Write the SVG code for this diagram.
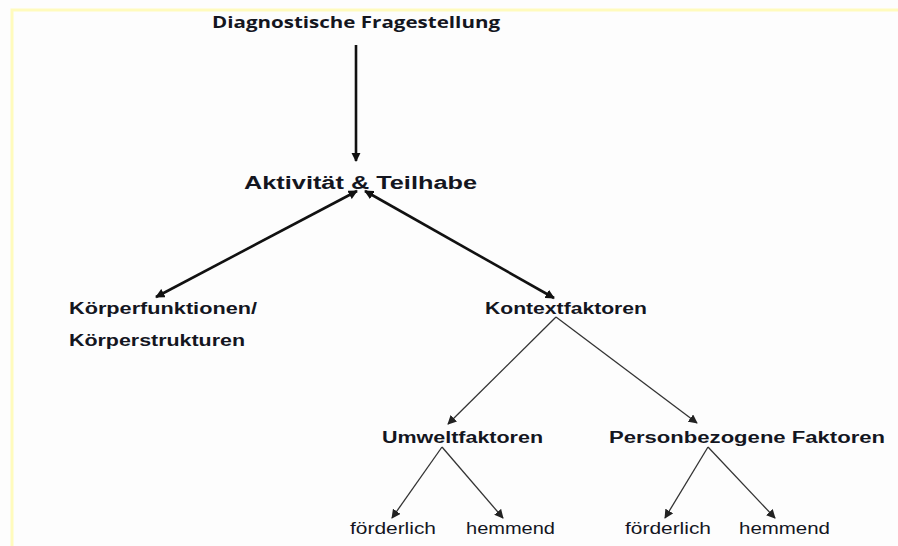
<svg xmlns="http://www.w3.org/2000/svg" width="898" height="546" viewBox="0 0 898 546">
<defs>
<style>
text{font-family:"Liberation Sans",Arial,sans-serif;fill:#14161f}
.b{font-weight:bold}
.t{font-family:"Open Sans","Liberation Sans",sans-serif;font-weight:bold;font-size:16.5px}
.thick{stroke:#111;stroke-width:2.6;fill:none}
.thin{stroke:#333;stroke-width:1.3;fill:none}
</style>
<marker id="ah" viewBox="0 0 10 10" refX="9" refY="5" markerWidth="3.6" markerHeight="3.6" orient="auto-start-reverse" markerUnits="strokeWidth">
<path d="M0,0 L10,5 L0,10 z" fill="#111"/>
</marker>
<marker id="ahs" viewBox="0 0 10 10" refX="9" refY="5" markerWidth="7" markerHeight="7" orient="auto" markerUnits="strokeWidth">
<path d="M0,0 L10,5 L0,10 z" fill="#222"/>
</marker>
</defs>
<rect x="0" y="0" width="898" height="546" fill="#fdfdfd"/>
<path d="M12,546 V10 H898" fill="none" stroke="#fffbbd" stroke-width="3"/>
<g id="connectors">
<line class="thick" x1="356" y1="45" x2="356" y2="161" marker-end="url(#ah)"/>
<line class="thick" x1="357" y1="191" x2="156" y2="297" marker-start="url(#ah)" marker-end="url(#ah)"/>
<line class="thick" x1="365" y1="191" x2="554" y2="298" marker-start="url(#ah)" marker-end="url(#ah)"/>
<line class="thin" x1="556" y1="317" x2="448" y2="424" marker-end="url(#ahs)"/>
<line class="thin" x1="556" y1="317" x2="697" y2="423" marker-end="url(#ahs)"/>
<line class="thin" x1="442" y1="447" x2="392" y2="518" marker-end="url(#ahs)"/>
<line class="thin" x1="442" y1="447" x2="503" y2="518" marker-end="url(#ahs)"/>
<line class="thin" x1="708" y1="447" x2="665" y2="518" marker-end="url(#ahs)"/>
<line class="thin" x1="708" y1="447" x2="775" y2="518" marker-end="url(#ahs)"/>
</g>
<g id="n-frage"><text class="t" x="212" y="28" textLength="288" lengthAdjust="spacingAndGlyphs">Diagnostische Fragestellung</text></g>
<g id="n-aktivitaet"><text class="b" x="244" y="189" font-size="18" textLength="233" lengthAdjust="spacingAndGlyphs">Aktivität &amp; Teilhabe</text></g>
<g id="n-koerper"><text class="b" x="69" y="314" font-size="16" textLength="188" lengthAdjust="spacingAndGlyphs">Körperfunktionen/</text><text class="b" x="69" y="346" font-size="16" textLength="176" lengthAdjust="spacingAndGlyphs">Körperstrukturen</text></g>
<g id="n-kontext"><text class="b" x="485" y="314" font-size="16" textLength="162" lengthAdjust="spacingAndGlyphs">Kontextfaktoren</text></g>
<g id="n-umwelt"><text class="b" x="382" y="443" font-size="16" textLength="161" lengthAdjust="spacingAndGlyphs">Umweltfaktoren</text></g>
<g id="n-person"><text class="b" x="609" y="443" font-size="16" textLength="276" lengthAdjust="spacingAndGlyphs">Personbezogene Faktoren</text></g>
<g id="n-u-foerd"><text x="350" y="534" font-size="16" textLength="86" lengthAdjust="spacingAndGlyphs">förderlich</text></g>
<g id="n-u-hemm"><text x="466" y="534" font-size="16" textLength="89" lengthAdjust="spacingAndGlyphs">hemmend</text></g>
<g id="n-p-foerd"><text x="625" y="534" font-size="16" textLength="86" lengthAdjust="spacingAndGlyphs">förderlich</text></g>
<g id="n-p-hemm"><text x="739" y="534" font-size="16" textLength="91" lengthAdjust="spacingAndGlyphs">hemmend</text></g>
</svg>
